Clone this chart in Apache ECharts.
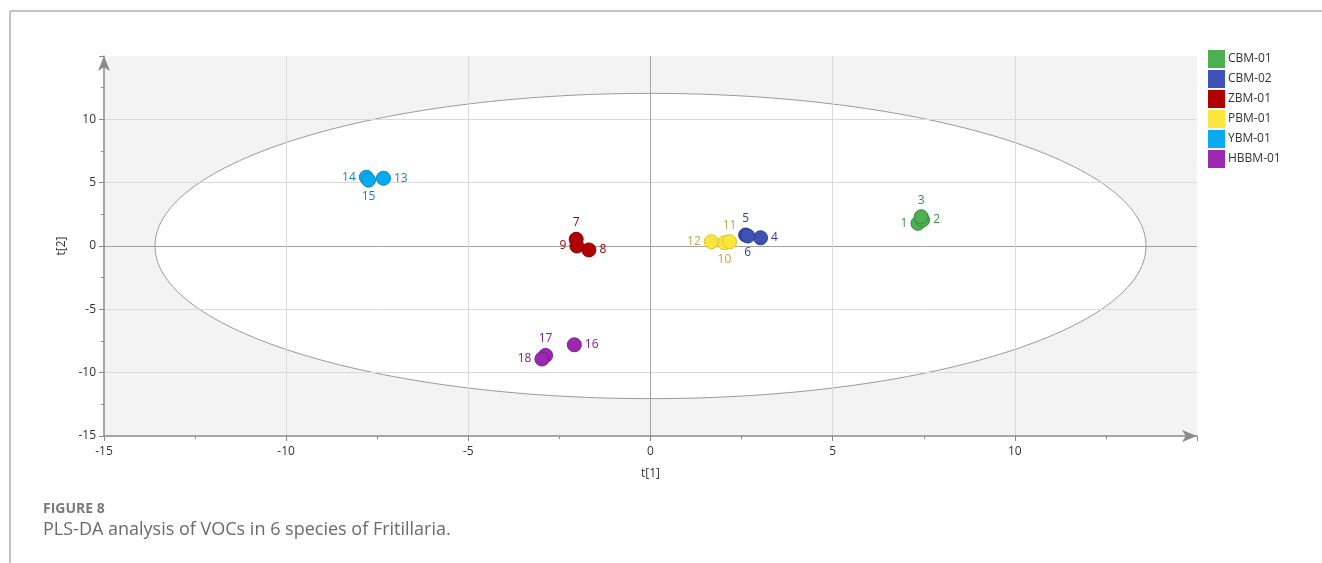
<!DOCTYPE html>
<html>
<head>
<meta charset="utf-8">
<script src="https://cdn.jsdelivr.net/npm/echarts@6/dist/echarts.min.js"></script>
<style>
  html, body { margin: 0; padding: 0; background: #fff; }
  #chart { width: 1322px; height: 563px; }
</style>
</head>
<body>
<div id="chart"></div>
<script>
// PLS-DA scores, t[1] vs t[2]
const groups = ['CBM-01', 'CBM-02', 'ZBM-01', 'PBM-01', 'YBM-01', 'HBBM-01']
const sampleIds = [
  [1, 2, 3],
  [4, 5, 6],
  [7, 8, 9],
  [10, 11, 12],
  [13, 14, 15],
  [16, 17, 18],
]
const t1 = [
  [7.34, 7.47, 7.43],
  [3.02, 2.61, 2.67],
  [-2.04, -1.69, -2.02],
  [2.03, 2.17, 1.67],
  [-7.33, -7.80, -7.74],
  [-2.09, -2.88, -2.98],
]
const t2 = [
  [1.79, 2.05, 2.31],
  [0.65, 0.87, 0.79],
  [0.53, -0.31, 0.0],
  [0.26, 0.34, 0.34],
  [5.35, 5.43, 5.2],
  [-7.80, -8.64, -8.92],
]
const axisTicks = [-15, -10, -5, 0, 5, 10, 15]
// Hotelling T2 ellipse half-axes
const ellipseA = 13.6
const ellipseB = 12.05

const fillColors = ['#4caf50', '#3f51b5', '#b00000', '#fbe73b', '#08aaf2', '#9c27b0']
const edgeColors = ['#3a8d3d', '#2c3b8f', '#8a0000', '#d8c52a', '#0a86c2', '#7a1a8c']
const labelColors = ['#3d8b40', '#2e3f93', '#9a0000', '#b9a84e', '#1580c0', '#7d1f8e']

// where each sample number sits relative to its dot
const labelSide = {
  1: 'left', 2: 'right', 3: 'top',
  4: 'right', 5: 'top', 6: 'bottom',
  7: 'top', 8: 'right', 9: 'left',
  10: 'bottom', 11: 'top', 12: 'left',
  13: 'right', 14: 'left', 15: 'bottom',
  16: 'right', 17: 'top', 18: 'left',
}

const font = '"Open Sans", "Noto Sans", sans-serif'
const gridColors = axisTicks.map((v, i) =>
  i === 0 || i === axisTicks.length - 1 ? 'rgba(0,0,0,0)' : v === 0 ? '#a2a2a2' : '#dadada')

function axis(name, isX) {
  return {
    type: 'value',
    min: axisTicks[0],
    max: axisTicks[axisTicks.length - 1],
    interval: 5,
    name: name,
    nameLocation: 'middle',
    nameGap: isX ? 32 : 36,
    nameTextStyle: { color: '#333', fontSize: 12, fontFamily: font },
    axisLine: {
      show: true,
      onZero: false,
      symbol: ['none', 'arrow'],
      symbolSize: [9, 15],
      lineStyle: { color: '#8a8a8a', width: 1.5 },
    },
    axisTick: { show: true, length: 5, lineStyle: { color: '#8a8a8a' } },
    minorTick: { show: true, splitNumber: 2, length: 3, lineStyle: { color: '#8a8a8a' } },
    axisLabel: {
      color: '#333',
      fontSize: 12,
      fontFamily: font,
      margin: isX ? 10 : 8,
      showMaxLabel: false,
    },
    splitLine: { show: true, lineStyle: { color: gridColors, width: 1 } },
  }
}

const scatterSeries = groups.map((g, gi) => ({
  name: g,
  type: 'scatter',
  symbol: 'circle',
  symbolSize: 14,
  itemStyle: { color: fillColors[gi], borderColor: edgeColors[gi], borderWidth: 1, opacity: 1 },
  label: {
    show: true,
    formatter: (p) => String(p.data.value[2]),
    color: labelColors[gi],
    fontSize: 12,
    fontFamily: font,
    distance: 3,
  },
  data: sampleIds[gi].map((id, i) => ({
    value: [t1[gi][i], t2[gi][i], id],
    label: { position: labelSide[id] },
  })),
}))

const ellipseSeries = {
  name: 'T2',
  type: 'custom',
  z: -1,
  silent: true,
  data: [[0, 0]],
  renderItem: (params, api) => {
    const c = api.coord([api.value(0), api.value(1)])
    const s = api.size([ellipseA, ellipseB])
    return {
      type: 'ellipse',
      shape: { cx: c[0], cy: c[1], rx: s[0], ry: s[1] },
      style: { fill: '#ffffff', stroke: '#9a9a9a', lineWidth: 1 },
    }
  },
}

const chart = echarts.init(document.getElementById('chart'), null, { renderer: 'canvas' })
chart.setOption({
  animation: false,
  backgroundColor: '#fff',
  grid: {
    left: 104, right: 125, top: 56, bottom: 127,
    show: true, backgroundColor: '#f3f3f3', borderWidth: 0, z: -5,
  },
  legend: {
    data: groups,
    orient: 'vertical',
    left: 1208,
    top: 50,
    padding: 0,
    icon: 'rect',
    itemWidth: 17,
    itemHeight: 18,
    itemGap: 2,
    itemStyle: { borderWidth: 0 },
    textStyle: { color: '#333', fontSize: 12, fontFamily: font, lineHeight: 18, padding: [0, 0, 0, -2] },
  },
  xAxis: axis('t[1]', true),
  yAxis: axis('t[2]', false),
  graphic: [
    { type: 'line', shape: { x1: 10, y1: 11, x2: 1322, y2: 11 }, style: { stroke: '#b0b0b0', lineWidth: 1.5 } },
    { type: 'line', shape: { x1: 10, y1: 11, x2: 10, y2: 563 }, style: { stroke: '#b0b0b0', lineWidth: 1.5 } },
    { type: 'text', left: 43, top: 502, style: { text: 'FIGURE 8', fill: '#7a7a7a', font: 'bold 14px ' + font } },
    { type: 'text', left: 43, top: 521, style: { text: 'PLS-DA analysis of VOCs in 6 species of Fritillaria.', fill: '#6a6a6a', font: '18px ' + font } },
  ],
  series: [ellipseSeries].concat(scatterSeries),
})
</script>
</body>
</html>
